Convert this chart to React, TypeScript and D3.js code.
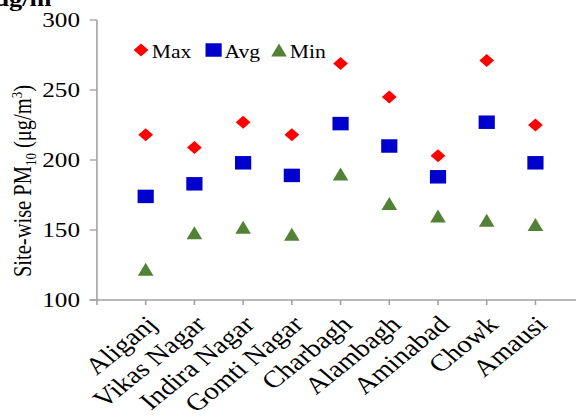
import React from "react";
import * as d3 from "d3";

const categories = ["Aliganj", "Vikas Nagar", "Indira Nagar", "Gomti Nagar", "Charbagh", "Alambagh", "Aminabad", "Chowk", "Amausi"];
const maxValues = [218, 209, 227, 218, 269, 245, 203, 271, 225];
const avgValues = [174, 183, 198, 189, 226, 210, 188, 227, 198];
const minValues = [122, 148, 152, 147, 190, 169, 160, 157, 154];
const yTicks = [100, 150, 200, 250, 300];

const W = 576;
const H = 417;
const SX = 1.2; // horizontal stretch of the original picture
const UW = W / SX;

const FONT = "'Liberation Serif', 'Times New Roman', serif";
const AXIS = "#a0a0a0";
const RED = "#ff0000";
const BLUE = "#0000cc";
const GREEN = "#538135";

const diamondType = {
  draw(ctx: any, size: number) {
    const r = Math.sqrt(size / 2);
    ctx.moveTo(0, -r);
    ctx.lineTo(r * 0.95, 0);
    ctx.lineTo(0, r);
    ctx.lineTo(-r * 0.95, 0);
    ctx.closePath();
  },
};
const triangleType = {
  draw(ctx: any, size: number) {
    const s = Math.sqrt(size);
    ctx.moveTo(0, -s / 2);
    ctx.lineTo(s / 2, s / 2);
    ctx.lineTo(-s / 2, s / 2);
    ctx.closePath();
  },
};

export default function App() {
  const x = d3.scaleLinear().domain([0, 10]).range([80.8, 80.8 + 406]);
  const y = d3.scaleLinear().domain([100, 300]).range([300, 20]);
  const diamond = d3.symbol().type(diamondType as any).size(84);
  const square = d3.symbol().type(d3.symbolSquare).size(182);
  const triangle = d3.symbol().type(triangleType as any).size(169);

  const series = [
    { name: "Max", values: maxValues, color: RED, path: diamond },
    { name: "Avg", values: avgValues, color: BLUE, path: square },
    { name: "Min", values: minValues, color: GREEN, path: triangle },
  ];
  const legendX = [117.5, 178, 232.5];

  return (
    <svg width={W} height={H} style={{ position: "absolute", left: 0, top: 0, display: "block", background: "#fff" }}>
      <g transform={`scale(${SX},1)`} fontFamily={FONT} fill="#000">
        <text x={-5} y={6} fontSize={22} fontWeight="bold">μg/m</text>
        {/* y axis */}
        <line x1={x(0)} x2={x(0)} y1={y(300)} y2={y(100)} stroke={AXIS} strokeWidth={1.3} />
        {yTicks.map((t) => (
          <g key={t}>
            <line x1={x(0) - 6} x2={x(0)} y1={y(t)} y2={y(t)} stroke={AXIS} strokeWidth={1.3} />
            <text x={66.7} y={y(t)} dy="0.35em" textAnchor="end" fontSize={21}>{t}</text>
          </g>
        ))}
        {/* x axis */}
        <line x1={x(0) - 6} x2={UW} y1={y(100)} y2={y(100)} stroke={AXIS} strokeWidth={1.3} />
        {d3.range(0, 10).map((i) => (
          <line key={i} x1={x(i)} x2={x(i)} y1={y(100)} y2={y(100) + 5} stroke={AXIS} strokeWidth={1.3} />
        ))}
        {categories.map((c, i) => (
          <text key={c} transform={`translate(${x(i + 1) + 5},${y(100) + 20}) rotate(-44)`} textAnchor="end" dy="0.35em" fontSize={24}>{c}</text>
        ))}
        {/* y label */}
        <text transform={`translate(26,181) rotate(-90)`} textAnchor="middle" fontSize={20.5}>
          Site-wise PM<tspan fontSize={13} dy={4}>10</tspan><tspan dy={-4}> (μg/m</tspan><tspan fontSize={13} dy={-8}>3</tspan><tspan dy={8}>)</tspan>
        </text>
        {/* markers */}
        {series.map((s) => (
          <g key={s.name} fill={s.color}>
            {s.values.map((v, i) => (
              <path key={i} d={s.path() as string} transform={`translate(${x(i + 1)},${y(v)})`} />
            ))}
          </g>
        ))}
        {/* legend */}
        {series.map((s, k) => (
          <g key={s.name}>
            <path d={s.path() as string} fill={s.color} transform={`translate(${legendX[k]},50)`} />
            <text x={legendX[k] + 9} y={58} fontSize={18}>{s.name}</text>
          </g>
        ))}
      </g>
    </svg>
  );
}
